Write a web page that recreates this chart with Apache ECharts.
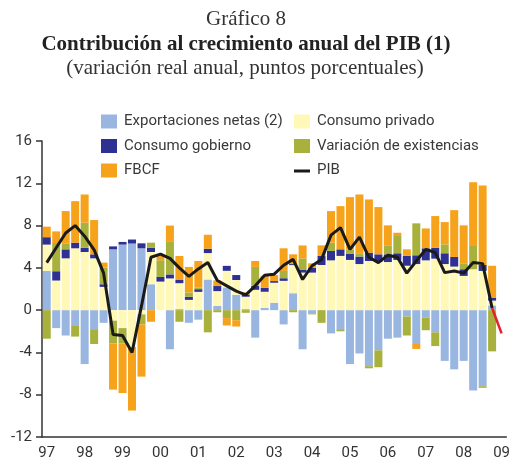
<!DOCTYPE html>
<html>
<head>
<meta charset="utf-8">
<script src="https://cdn.jsdelivr.net/npm/echarts@6/dist/echarts.min.js"></script>
<style>
  html, body { margin: 0; padding: 0; background: #fff; }
  #chart { width: 513px; height: 464px; }
</style>
</head>
<body>
<div id="chart"></div>
<script>
// quarters 97-I .. 09-I
const years = ['97', '98', '99', '00', '01', '02', '03', '04', '05', '06', '07', '08', '09'];
const quarterNames = ['I', 'II', 'III', 'IV'];
const quarters = [];
years.forEach((y) => quarterNames.forEach((q) => quarters.push(`${y}-${q}`)));
quarters.length = 49;

const exportacionesNetas = [
  3.7, -1.7, -2.4, -1.5, -5.1, -1.8, -1.2, 5.75,
  6.2, 6.3, 5.85, 2.45, 0, -3.7, 0.1, -1.2,
  -0.9, 2.9, 0.4, 2.15, 1.45, 0.1, -2.6, 0.2,
  0.7, -1.35, 1.6, -3.7, -0.3, 0, -2.2, -1.8,
  -5.1, -4.1, -5.3, -3.8, -2.7, -2.6, -0.6, -3.2,
  -0.7, -2.1, -4.8, -5.6, -4.8, -7.6, -7.2, 0.45,
];
const consumoPrivado = [
  2.5, 2.8, 4.9, 5.85, 5.5, 4.9, 2.2, -1.0,
  -1.7, -3.5, -0.4, 3.05, 2.7, 3.0, 2.45, 0.97,
  1.73, 2.5, 1.4, 1.57, 1.4, 1.17, 1.92, 1.54,
  1.89, 2.77, 2.66, 3.55, 3.55, 4.27, 4.71, 5.13,
  4.75, 4.36, 4.65, 4.55, 4.55, 4.75, 4.2, 4.36,
  4.71, 4.87, 4.36, 4.12, 3.24, 3.87, 3.71, 0.45,
];
const consumoGobierno = [
  0.7, 0.88, 0.85, 0.53, 0.41, 0.38, 0.25, 0.28,
  0.25, 0.38, 0.47, 0.41, 0.44, 0.38, 0.3, 0.29,
  0.25, 0.41, 0.48, 0.47, 0.47, 0.19, 0.38, 0.38,
  0.16, 0.25, 0.1, 0.25, 0.47, 0.86, 0.89, 0.62,
  0.6, 0.71, 0.79, 0.73, 0.73, 0.63, 0.93, 0.83,
  1.14, 1.04, 1.02, 0.91, 0.63, 0, 0.56, 0.25,
];
const variacionExistencias = [
  -2.7, 2.67, 0.57, -1.0, 2.36, -1.4, 1.58, -2.14,
  -1.44, 0, -0.95, 0.47, 1.58, 3.14, -1.1, 0.41,
  0.16, -2.1, -0.2, -0.75, -0.95, -0.25, 1.79, 0,
  0, 0.69, -0.2, 1.1, -0.1, -1.2, 0.78, -0.2,
  0.4, 0.31, -0.2, -1.6, 0.85, 1.63, -1.8, 3.02,
  -1.2, -1.3, 0.84, 0, 0.56, 2.2, -0.15, -3.9,
];
const fbcf = [
  1.0, 1.1, 3.05, 3.93, 2.67, 3.24, 0.47, -4.38,
  -4.7, -6.0, -4.94, -1.1, 0.41, 1.48, 2.27, 2.42,
  2.51, 1.32, 0.53, -0.7, -0.6, 0.22, 0.56, 1.13,
  0.57, 2.14, 0.92, 1.22, 0.41, 1.0, 2.99, 4.09,
  4.94, 5.56, 5.03, 4.47, 1.89, 0.31, 0.62, -0.47,
  1.88, 2.99, 2.11, 4.43, 3.59, 6.03, 7.52, 3.05,
];
const pib = [
  4.5, 5.9, 7.3, 8.0, 7.0, 5.7, 3.5, -2.3,
  -2.4, -4.0, 0.4, 5.0, 5.3, 4.9, 4.0, 3.2,
  3.9, 4.5, 2.8, 2.3, 1.8, 1.45, 2.3, 3.3,
  3.4, 4.25, 4.8, 2.9, 4.2, 4.8, 7.1, 7.8,
  5.75, 6.9, 5.0, 4.5, 5.2, 5.0, 3.5, 4.65,
  5.75, 5.45, 3.55, 3.7, 3.5, 4.5, 4.4, 0.2,
];
// last observed quarter and 09-I
const pibProyeccion = [0.2, -2.2];
const proyStart = 47;

const labelFont = 'Roboto';
const axisColor = '#333';
const serif = '"Liberation Serif", serif';

const barBase = { type: 'bar', stack: 'total', barWidth: 8, xAxisIndex: 0 };
const legendText = { fontFamily: labelFont, fontSize: 15, color: '#3a3a3a', lineHeight: 14, padding: [0, 0, 0, 2] };

const chart = echarts.init(document.getElementById('chart'));

chart.setOption({
  animation: false,
  backgroundColor: '#fff',
  title: [
    {
      text: 'Gráfico 8',
      left: 246,
      top: 9,
      textAlign: 'center',
      padding: 0,
      textStyle: { fontFamily: serif, fontSize: 21, fontWeight: 'normal', color: '#333' },
    },
    {
      text: 'Contribución al crecimiento anual del PIB (1)',
      left: 246,
      top: 34,
      textAlign: 'center',
      padding: 0,
      textStyle: { fontFamily: serif, fontSize: 21, fontWeight: 'bold', color: '#222' },
    },
    {
      text: '(variación real anual, puntos porcentuales)',
      left: 245,
      top: 58,
      textAlign: 'center',
      padding: 0,
      textStyle: { fontFamily: serif, fontSize: 21, fontWeight: 'normal', color: '#333' },
    },
  ],
  legend: [
    {
      left: 96,
      top: 109,
      orient: 'vertical',
      itemWidth: 16,
      itemHeight: 14,
      itemGap: 9.5,
      selectedMode: false,
      textStyle: legendText,
      data: [
        { name: 'Exportaciones netas (2)', icon: 'rect' },
        { name: 'Consumo gobierno', icon: 'rect' },
        { name: 'FBCF', icon: 'rect' },
      ],
    },
    {
      left: 289,
      top: 109,
      orient: 'vertical',
      itemWidth: 16,
      itemHeight: 14,
      itemGap: 9.5,
      selectedMode: false,
      textStyle: legendText,
      data: [
        { name: 'Consumo privado', icon: 'rect' },
        { name: 'Variación de existencias', icon: 'rect' },
        { name: 'PIB', icon: 'path://M0,0M0,6h16v3h-16zM16,14' },
      ],
    },
  ],
  grid: { left: 42, right: 5.5, top: 141, bottom: 27 },
  xAxis: [
    {
      type: 'category',
      data: quarters,
      position: 'bottom',
      axisLine: { onZero: false, lineStyle: { color: axisColor, width: 1.5 } },
      axisTick: { interval: 3, alignWithLabel: true, length: 7, lineStyle: { color: axisColor, width: 1.5 } },
      axisLabel: {
        interval: 3,
        margin: 9,
        color: axisColor,
        fontFamily: labelFont,
        fontSize: 15,
        formatter: (v) => v.split('-')[0],
      },
    },
    {
      type: 'category',
      data: quarters,
      position: 'bottom',
      axisLine: { onZero: true, show: false },
      axisTick: { interval: 3, length: 4, lineStyle: { color: '#b4b4b4', width: 3 } },
      axisLabel: { show: false },
    },
  ],
  yAxis: {
    type: 'value',
    min: -12,
    max: 16,
    interval: 4,
    axisLine: { show: true, lineStyle: { color: axisColor, width: 1.5 } },
    axisTick: { show: true, length: 6, lineStyle: { color: axisColor, width: 1.5 } },
    axisLabel: { color: axisColor, fontFamily: labelFont, fontSize: 15, margin: 10 },
    splitLine: { show: false },
  },
  series: [
    { ...barBase, name: 'Exportaciones netas (2)', data: exportacionesNetas, itemStyle: { color: '#98b6e0' } },
    { ...barBase, name: 'Consumo privado', data: consumoPrivado, itemStyle: { color: '#fff8b6' } },
    { ...barBase, name: 'Consumo gobierno', data: consumoGobierno, itemStyle: { color: '#2e3191' } },
    { ...barBase, name: 'Variación de existencias', data: variacionExistencias, itemStyle: { color: '#a8b13b' } },
    { ...barBase, name: 'FBCF', data: fbcf, itemStyle: { color: '#f7a21b' } },
    {
      name: 'PIB',
      type: 'line',
      data: pib,
      symbol: 'none',
      z: 5,
      itemStyle: { color: '#1a1a1a' },
      lineStyle: { color: '#1a1a1a', width: 3 },
    },
    {
      name: 'PIB proyección',
      type: 'line',
      data: quarters.map((q, i) => (i >= proyStart ? pibProyeccion[i - proyStart] : null)),
      symbol: 'none',
      z: 6,
      itemStyle: { color: '#e4202a' },
      lineStyle: { color: '#e4202a', width: 2.5 },
    },
  ],
});
</script>
</body>
</html>
